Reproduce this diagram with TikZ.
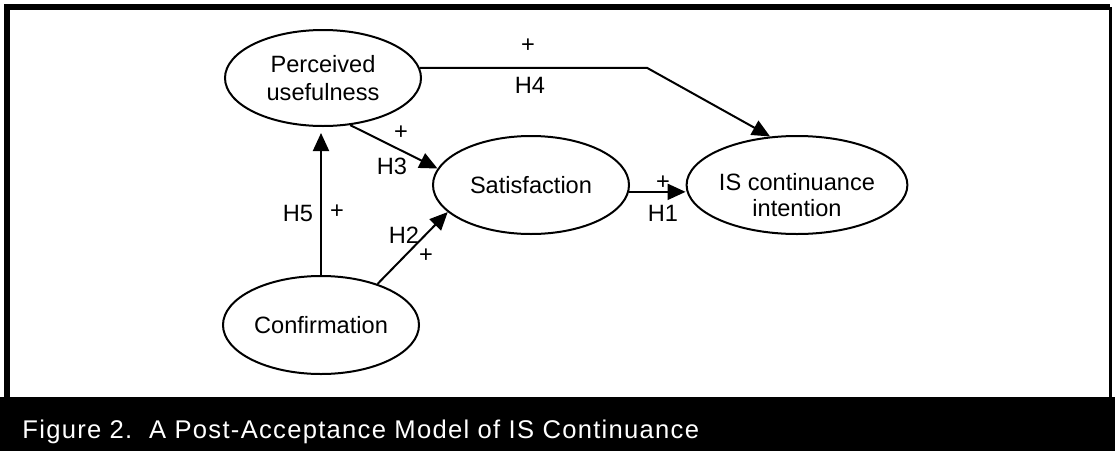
\documentclass[tikz,border=0pt]{standalone}
\usepackage{fontspec}
\setmainfont{Liberation Sans}
\usetikzlibrary{shapes.geometric,arrows.meta}

\begin{document}
\begin{tikzpicture}[x=0.5pt,y=-0.5pt,
    construct/.style={draw,ellipse,line width=1pt,inner sep=0pt,align=center,
        minimum width=98pt,minimum height=49pt,font=\fontsize{11.8}{14}\selectfont},
    link/.style={line width=1pt,-{Triangle[length=9pt,width=8pt]}},
    lbl/.style={inner sep=0pt,font=\fontsize{11.8}{14}\selectfont}]
    \useasboundingbox (0,0) rectangle (1115,451);
    % frame and caption bar
    \fill[black] (0,397) rectangle (1115,451);
    \draw[line width=3pt] (7,397) -- (7,7) -- (1110,7);
    \draw[line width=1.5pt] (1110,7) -- (1110,397);
    \node[anchor=base west,inner sep=0pt,text=white,
        font=\fontsize{12.8}{15}\selectfont\addfontfeature{LetterSpace=5}] (caption) at (22,438)
        {Figure 2.\ \ A Post-Acceptance Model of IS Continuance};
    % constructs
    \node[construct,minimum height=48pt] (pu) at (323,78) {Perceived\\usefulness};
    \node[construct] (sat) at (531,185) {Satisfaction};
    \node[construct,font=\fontsize{11.8}{13.3}\selectfont] (isci) at (797,185)
        {\rule{0pt}{18.5pt}IS continuance\\intention};
    \node[construct] (conf) at (321,325) {Confirmation};
    \coordinate (bend) at (647,68);
    % hypotheses
    \draw[link] (sat.-4) -- (sat.-4 -| isci.west);
    \draw[link] (conf.36) -- (sat.198);
    \draw[link] (pu.-60) -- (sat.170);
    \draw[link] (pu.6) -- (pu.6 -| bend) -- (isci.119);
    \draw[link,shorten >=3pt] (conf.north) -- (conf.north |- pu.south);
    % signs and labels
    \node[lbl] (plusone) at (663,183) {+};
    \node[lbl] (hone) at (663,213) {H1};
    \node[lbl] (htwo) at (404,235) {H2};
    \node[lbl] (plustwo) at (426,256) {+};
    \node[lbl] (plusthree) at (401,133) {+};
    \node[lbl] (hthree) at (392,166) {H3};
    \node[lbl] (plusfour) at (528,46) {+};
    \node[lbl] (hfour) at (530,85) {H4};
    \node[lbl] (hfive) at (298,213) {H5};
    \node[lbl] (plusfive) at (337,212) {+};
\end{tikzpicture}
\end{document}
